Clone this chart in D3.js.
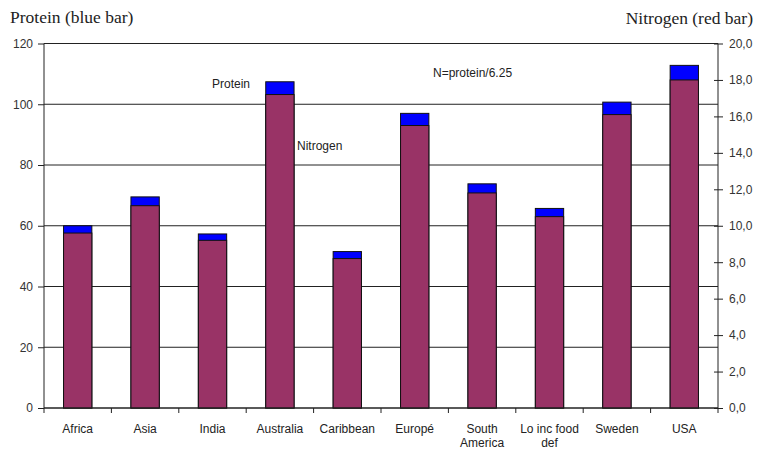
<!DOCTYPE html>
<html>
<head>
<meta charset="utf-8">
<script src="https://cdn.jsdelivr.net/npm/d3@7"></script>
<style>
  body { margin: 0; background: #fff; }
  text { font-family: "Liberation Sans", Arial, sans-serif; }
  text.serif { font-family: "Liberation Serif", "Times New Roman", serif; }
</style>
</head>
<body>
<div id="chart"></div>
<script>
// data
const regions = ["Africa", "Asia", "India", "Australia", "Caribbean", "Europé", "South America", "Lo inc food def", "Sweden", "USA"];
const protein = [60, 69.5, 57.3, 107.4, 51.5, 97, 73.8, 65.7, 100.7, 112.8];
const nitrogen = [9.6, 11.1, 9.2, 17.2, 8.2, 15.5, 11.8, 10.5, 16.1, 18.0];
const leftTicks = [0, 20, 40, 60, 80, 100, 120];
const rightTicks = [0, 2, 4, 6, 8, 10, 12, 14, 16, 18, 20];

const W = 761, H = 450;
const margin = {top: 43.5, right: 43, bottom: 42, left: 44};
const width = W - margin.left - margin.right,
      height = H - margin.top - margin.bottom;

const svg = d3.select("#chart").append("svg")
    .attr("width", W).attr("height", H);
const g = svg.append("g")
    .attr("transform", `translate(${margin.left},${margin.top})`);

// scales
const x = d3.scaleBand().domain(regions).range([0, width])
    .paddingInner(0.58).paddingOuter(0.29);
const yL = d3.scaleLinear().domain([0, 120]).range([height, 0]);
const yR = d3.scaleLinear().domain([0, 20]).range([height, 0]);

// gridlines
g.append("g").selectAll("line").data(leftTicks).join("line")
    .attr("x1", 0).attr("x2", width)
    .attr("y1", d => yL(d)).attr("y2", d => yL(d))
    .attr("stroke", "#222").attr("stroke-width", 1);

// protein bars (blue, behind)
g.append("g").selectAll("rect").data(protein).join("rect")
    .attr("x", (d, i) => x(regions[i]))
    .attr("y", d => yL(d))
    .attr("width", x.bandwidth())
    .attr("height", d => height - yL(d))
    .attr("fill", "#0000ff").attr("stroke", "#111").attr("stroke-width", 1);

// nitrogen bars (red, front)
g.append("g").selectAll("rect").data(nitrogen).join("rect")
    .attr("x", (d, i) => x(regions[i]))
    .attr("y", d => yR(d))
    .attr("width", x.bandwidth())
    .attr("height", d => height - yR(d))
    .attr("fill", "#993366").attr("stroke", "#111").attr("stroke-width", 1);

// left axis
const la = g.append("g")
    .call(d3.axisLeft(yL).tickValues(leftTicks).tickSize(6).tickPadding(5));
la.select(".domain").attr("stroke", "#222").attr("d", `M0,${height}V0`);
la.selectAll(".tick line").attr("stroke", "#222");
la.selectAll("text").attr("font-size", 12).attr("fill", "#333");

// right axis
const ra = g.append("g").attr("transform", `translate(${width},0)`)
    .call(d3.axisRight(yR).tickValues(rightTicks)
        .tickFormat(d => d3.format(".1f")(d).replace(".", ","))
        .tickSize(5).tickPadding(6));
ra.select(".domain").attr("stroke", "#222").attr("d", `M0,${height}V0`);
ra.selectAll(".tick line").attr("stroke", "#222").attr("x1", -4);
ra.selectAll("text").attr("font-size", 12).attr("fill", "#333");

// bottom axis with ticks between categories
const xa = g.append("g").attr("transform", `translate(0,${height})`);
xa.append("line").attr("x1", 0).attr("x2", width)
    .attr("stroke", "#222");
xa.selectAll("line.t").data(d3.range(regions.length + 1)).join("line")
    .attr("class", "t")
    .attr("x1", i => i * x.step()).attr("x2", i => i * x.step())
    .attr("y1", 0).attr("y2", 5).attr("stroke", "#222");
const lbl = xa.selectAll("text").data(regions).join("text")
    .attr("x", d => x(d) + x.bandwidth() / 2)
    .attr("y", 25)
    .attr("text-anchor", "middle")
    .attr("font-size", 12).attr("fill", "#222");
lbl.each(function(d) {
  let parts = [d];
  if (d === "South America") parts = ["South", "America"];
  if (d === "Lo inc food def") parts = ["Lo inc food", "def"];
  d3.select(this).selectAll("tspan").data(parts).join("tspan")
      .attr("x", x(d) + x.bandwidth() / 2)
      .attr("dy", (p, i) => i === 0 ? 0 : 14)
      .text(p => p);
});

// titles
svg.append("text").attr("class", "serif").attr("x", 10).attr("y", 23)
    .attr("font-size", 17.5).attr("fill", "#222")
    .text("Protein (blue bar)");
svg.append("text").attr("class", "serif").attr("x", 753).attr("y", 24)
    .attr("text-anchor", "end")
    .attr("font-size", 17.5).attr("fill", "#222")
    .text("Nitrogen (red bar)");

// annotations
svg.append("text").attr("x", 212).attr("y", 88)
    .attr("font-size", 12).attr("fill", "#222").text("Protein");
svg.append("text").attr("x", 297).attr("y", 150)
    .attr("font-size", 12).attr("fill", "#222").text("Nitrogen");
svg.append("text").attr("x", 433).attr("y", 77)
    .attr("font-size", 12).attr("fill", "#222").text("N=protein/6.25");
</script>
</body>
</html>
